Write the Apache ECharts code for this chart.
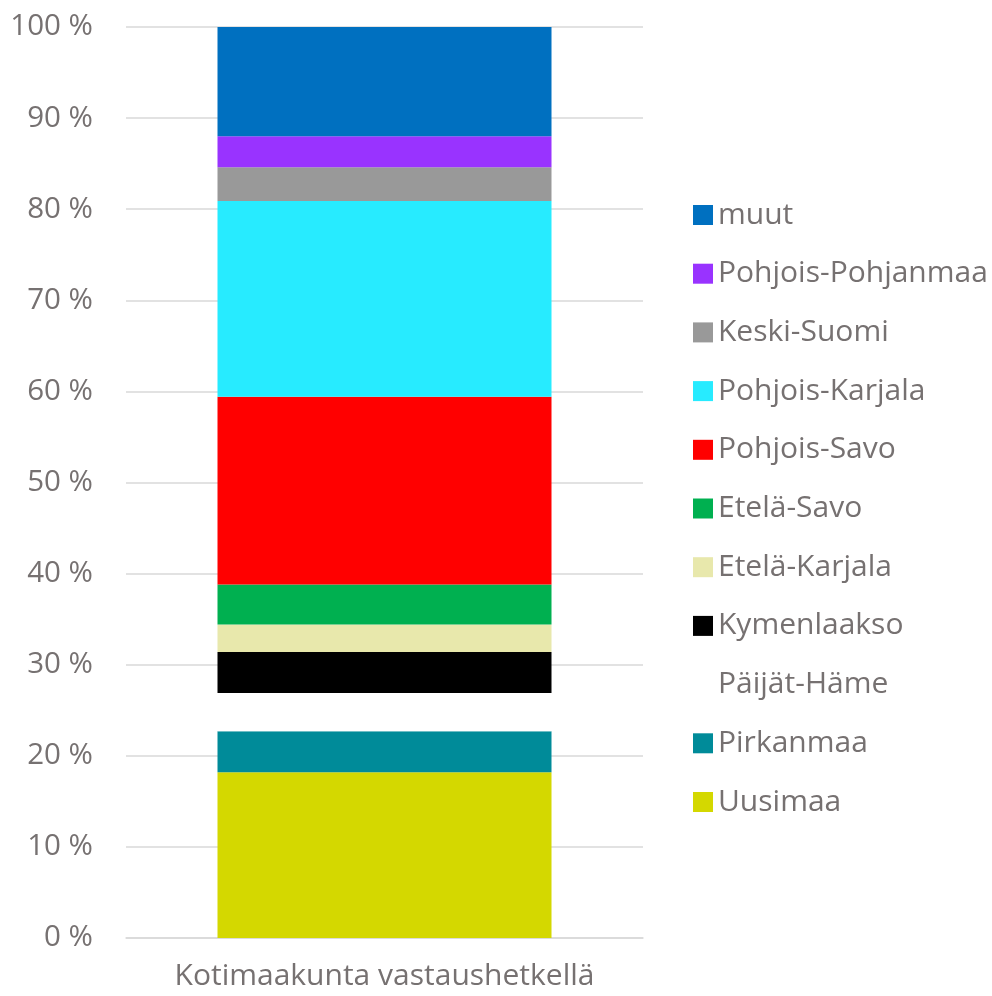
<!DOCTYPE html>
<html>
<head>
<meta charset="utf-8">
<script src="https://cdn.jsdelivr.net/npm/echarts@6/dist/echarts.min.js"></script>
<style>
  html, body { margin: 0; padding: 0; background: #fff; }
  #chart { width: 992px; height: 996px; }
</style>
</head>
<body>
<div id="chart"></div>
<script>
// stacked from bottom to top
const categories = ["Kotimaakunta vastaushetkellä"];
const regions = [
  "Uusimaa", "Pirkanmaa", "Päijät-Häme", "Kymenlaakso", "Etelä-Karjala",
  "Etelä-Savo", "Pohjois-Savo", "Pohjois-Karjala", "Keski-Suomi",
  "Pohjois-Pohjanmaa", "muut"
];
const shares = [18.2, 4.5, 4.2, 4.5, 3.0, 4.4, 20.6, 21.5, 3.7, 3.4, 12.0];
const colors = [
  "#D4D800", "#008B99", "#FFFFFF", "#000000", "#E8E8AC",
  "#00B050", "#FF0000", "#27EBFF", "#999999", "#9933FF", "#0070C0"
];
const yTicks = { min: 0, max: 100, interval: 10 };

const textColor = "#767171";
const font = "Open Sans";

const chart = echarts.init(document.getElementById("chart"));

const series = regions.map((name, i) => ({
  name: name,
  type: "bar",
  stack: "total",
  barWidth: 334,
  data: [shares[i]],
  itemStyle: { color: colors[i] },
  emphasis: { disabled: true },
}));

chart.setOption({
  animation: false,
  textStyle: { fontFamily: font },
  grid: { left: 126, right: 349, top: 27, bottom: 58 },
  legend: {
    orient: "vertical",
    left: 688,
    top: 195,
    data: regions.slice().reverse(),
    itemWidth: 20,
    itemHeight: 20,
    itemGap: 28.7,
    icon: "rect",
    selectedMode: false,
    textStyle: {
      color: textColor,
      fontFamily: font,
      fontSize: 30,
      lineHeight: 28,
      padding: [0, 0, 0, 0],
    },
  },
  xAxis: {
    type: "category",
    data: categories,
    axisTick: { show: false },
    axisLine: { lineStyle: { color: "#D9D9D9", width: 1.5 } },
    axisLabel: {
      color: textColor,
      fontFamily: font,
      fontSize: 30,
      margin: 23,
    },
  },
  yAxis: {
    type: "value",
    min: yTicks.min,
    max: yTicks.max,
    interval: yTicks.interval,
    axisLine: { show: false },
    axisTick: { show: false },
    splitLine: { lineStyle: { color: "#D9D9D9", width: 1.5 } },
    axisLabel: {
      formatter: "{value} %",
      color: textColor,
      fontFamily: font,
      fontSize: 29.5,
      margin: 33,
    },
  },
  series: series,
});
</script>
</body>
</html>
